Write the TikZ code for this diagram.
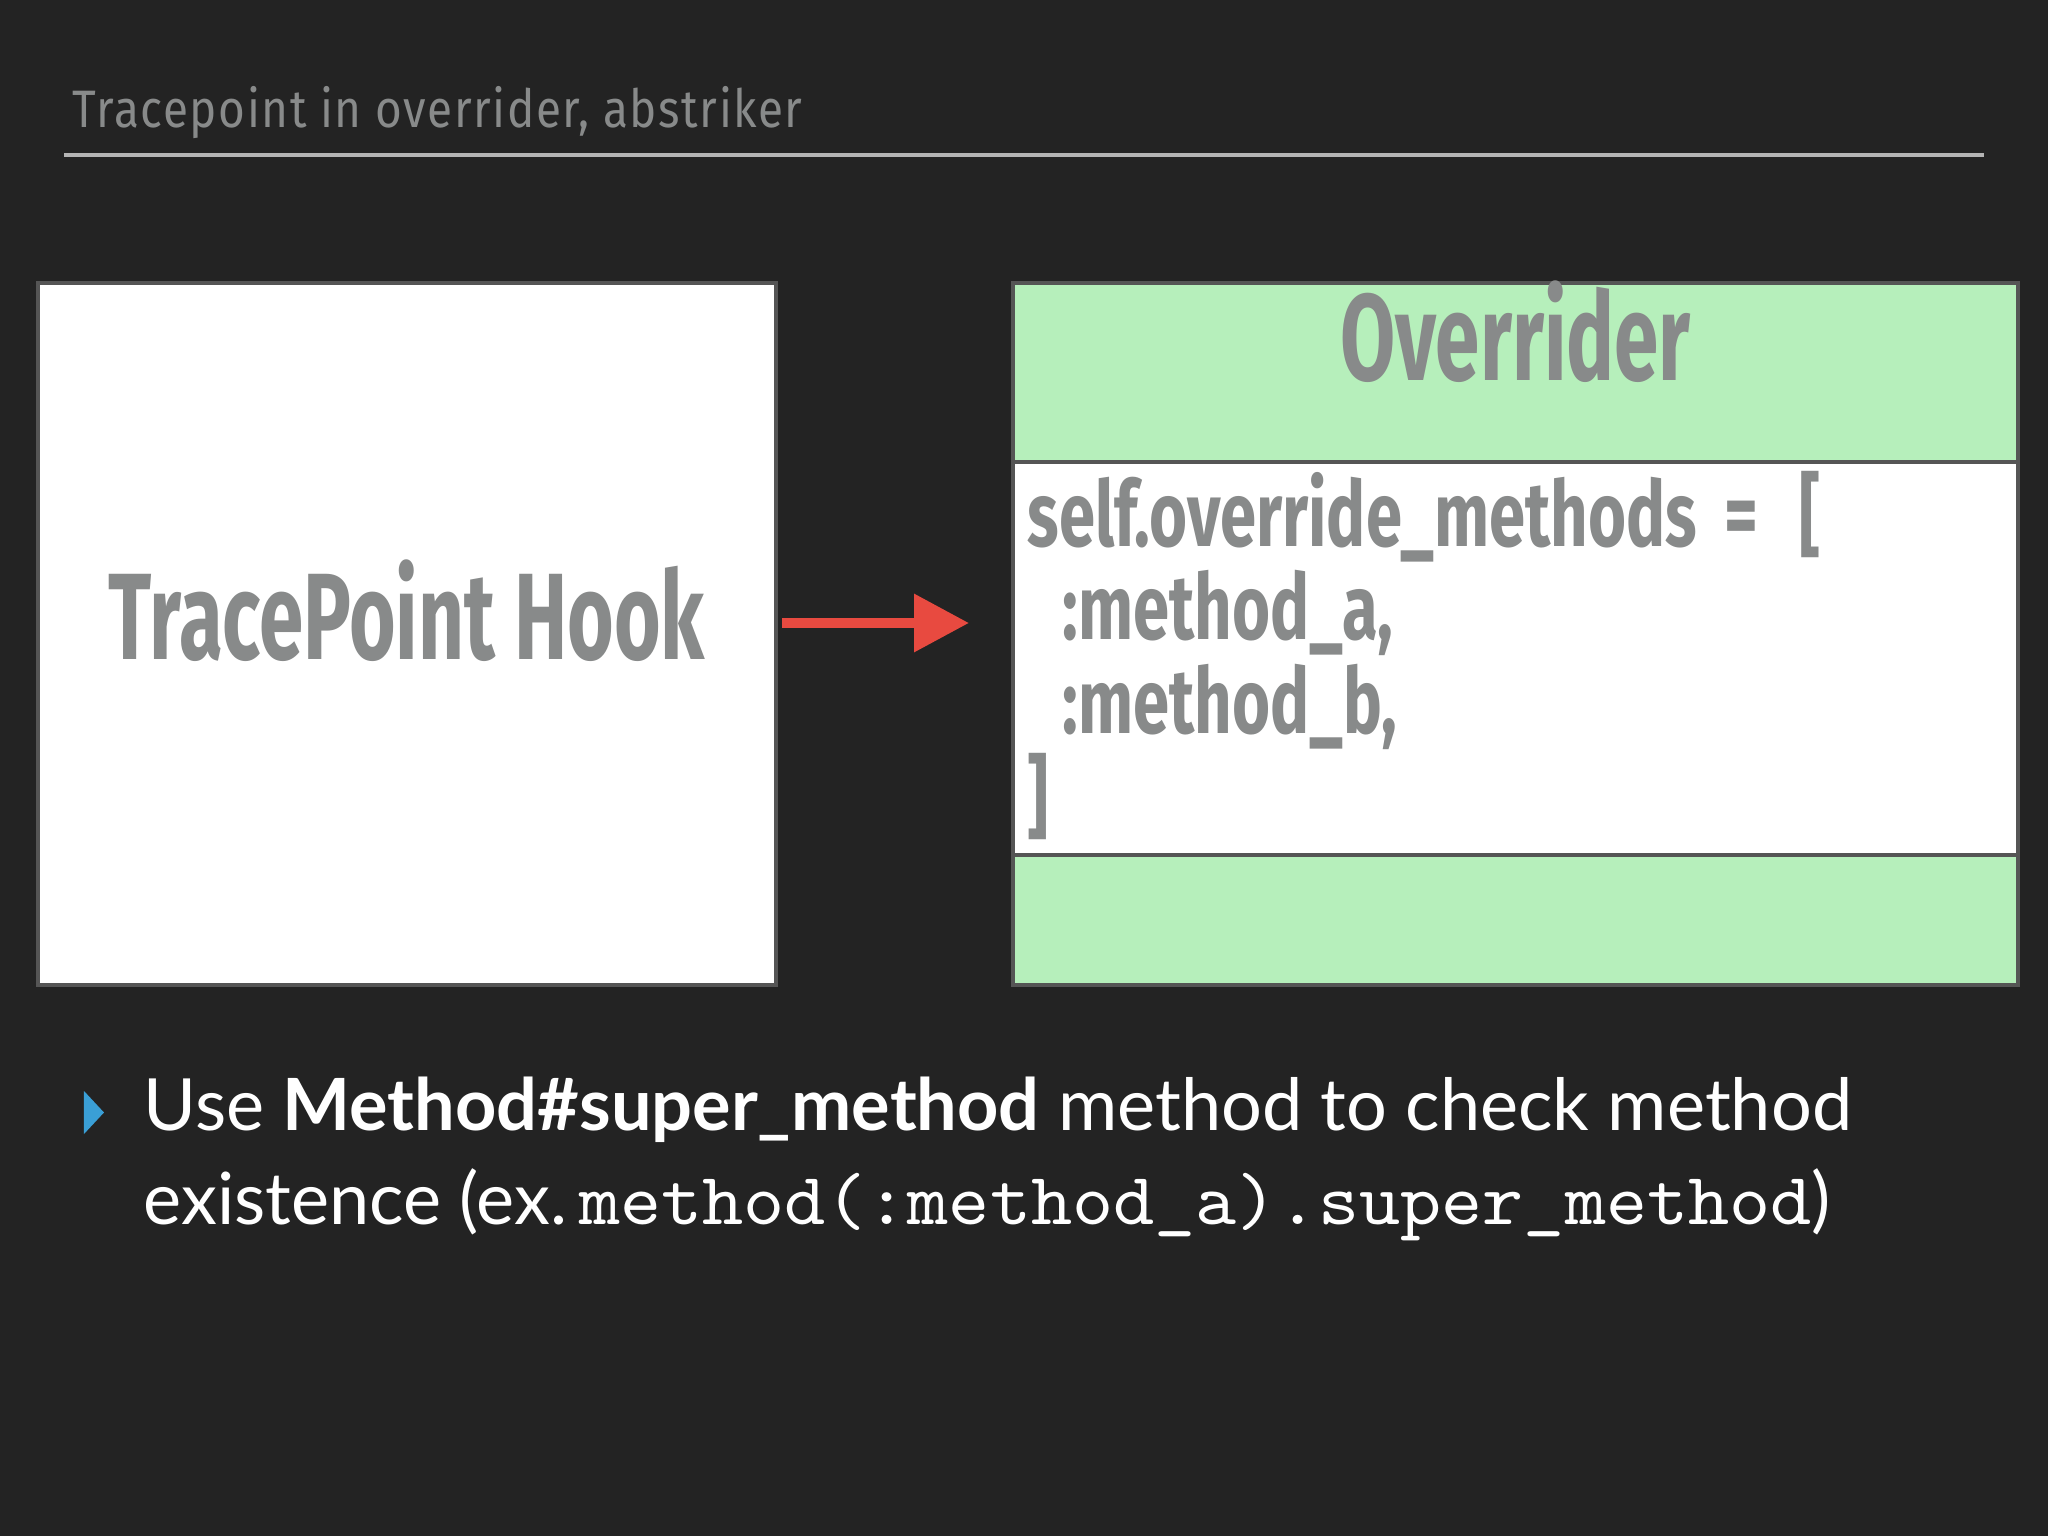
\documentclass[tikz,border=0pt]{standalone}
\usepackage{fontspec}
\setmainfont{Lato}
\newfontfamily\dinfont[FakeStretch=0.65]{Fira Sans}
\newfontfamily\codefont[FakeStretch=0.714]{Fira Sans}
\newfontfamily\headfont[FakeStretch=0.87,LetterSpace=3]{Fira Sans}
\newfontfamily\courfont[FakeStretch=1.06]{lmmono10-regular.otf}
\usetikzlibrary{positioning}
\usetikzlibrary{arrows.meta}
\definecolor{slidebg}{HTML}{232323}
\definecolor{boxgray}{HTML}{888A8A}
\definecolor{rulegray}{HTML}{B4B4B4}
\definecolor{edgegray}{HTML}{555555}
\definecolor{mintgreen}{HTML}{B6EFBB}
\definecolor{arrowred}{HTML}{E84A40}
\definecolor{bulletblue}{HTML}{3A9FD6}
\tikzset{
    titletext/.style = {anchor=base west, inner sep=0pt, text=boxgray, font=\headfont\fontsize{15}{18}\selectfont},
    hookbox/.style = {rectangle, draw=edgegray, line width=0.04cm, fill=white, outer sep=0pt, inner sep=0pt, minimum width=7.38cm, minimum height=7.02cm},
    classbox/.style = {rectangle, draw=edgegray, line width=0.04cm, outer sep=0pt, inner sep=0pt, minimum width=10.05cm},
    bigtext/.style = {anchor=base, inner sep=0pt, text=boxgray, font=\dinfont\bfseries\fontsize{35}{40}\selectfont},
    codeline/.style = {anchor=base west, inner sep=0pt, text=boxgray, font=\codefont\bfseries\fontsize{26}{30}\selectfont},
    bodyline/.style = {anchor=base west, inner sep=0pt, text=white, font=\fontsize{20.5}{24}\selectfont},
    edger/.style = {-{Triangle[length=0.55cm,width=0.56cm]}, line width=0.1cm, draw=arrowred},
}
\newcommand{\rubycode}[1]{{\courfont\fontsize{21}{24}\selectfont #1}}
\begin{document}
\begin{tikzpicture}
\fill[slidebg] (0,0) rectangle (20.48,-15.36);
\useasboundingbox (0,0) rectangle (20.48,-15.36);
%
\node[titletext] (title) at (0.72,-1.28) {Tracepoint in overrider, abstriker};
\coordinate (ruleL) at (0.64,-1.55);
\coordinate (ruleR) at (19.84,-1.55);
\draw[rulegray, line width=0.035cm] (ruleL) -- (ruleR);
%
\node[hookbox] at (4.07,-6.34) (hook) {};
\node[bigtext] at (4.07,-6.60) (hooklabel) {TracePoint Hook};
%
\node[classbox, fill=mintgreen, minimum height=1.79cm] at (15.155,-3.725) (header) {};
\node[classbox, fill=white, minimum height=3.93cm, below=0cm of header] (body) {};
\node[classbox, fill=mintgreen, minimum height=1.30cm, below=0cm of body] (footer) {};
\node[bigtext] at (15.155,-3.81) (classname) {Overrider};
\node[codeline] at (10.27,-5.46) (code1) {self.override\_methods\hspace{0.3em}=\hspace{0.45em}[};
\node[codeline] at (10.62,-6.40) (code2) {:method\_a,};
\node[codeline] at (10.62,-7.34) (code3) {:method\_b,};
\node[codeline] at (10.27,-8.28) (code4) {]};
%
\draw[edger, shorten <=0.06cm, shorten >=0.44cm] ([yshift=0.11cm]hook.east) -- ([yshift=0.11cm]hook.east -| body.west);
%
\fill[bulletblue] (0.84,-10.91) -- (1.04,-11.125) -- (0.84,-11.34) -- cycle;
\node[bodyline] at (1.43,-11.30) (line1) {Use \textbf{Method\#super\_method} method to check method};
\node[bodyline] at (1.43,-12.24) (line2) {existence (ex.\,\rubycode{method(:method\_a).super\_method})};
\end{tikzpicture}
\end{document}
